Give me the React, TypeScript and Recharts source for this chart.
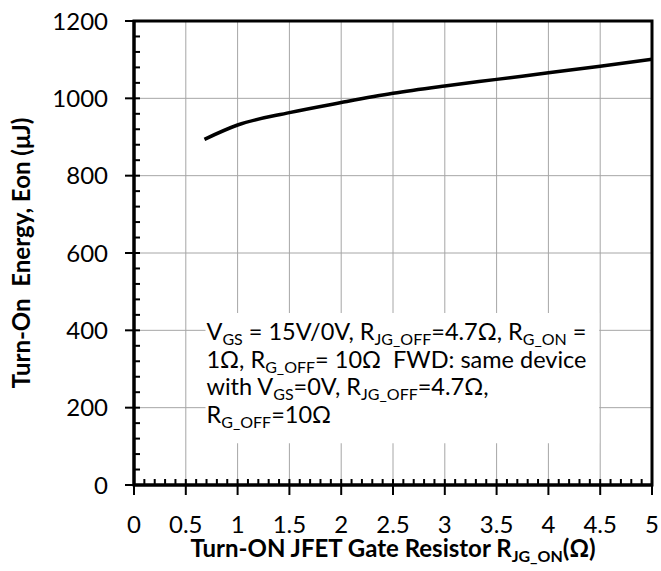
import { ComposedChart, Line, XAxis, YAxis, CartesianGrid, ReferenceArea } from 'recharts';

// gate resistor sweep (ohm) and turn-on energy (uJ)
const rgOn = [0.68, 1, 1.5, 2, 2.5, 3, 3.5, 4, 4.5, 5];
const eon = [894, 931, 963, 989, 1013, 1032, 1049, 1066, 1083, 1101];

const xTicks = [0, 0.5, 1, 1.5, 2, 2.5, 3, 3.5, 4, 4.5, 5];
const xTickLabels = ['0', '0.5', '1', '1.5', '2', '2.5', '3', '3.5', '4', '4.5', '5'];
const yTicks = [0, 200, 400, 600, 800, 1000, 1200];
const yTickLabels = ['0', '200', '400', '600', '800', '1000', '1200'];
// minor tick positions: every 0.1 ohm and every 40 uJ
const xMinor = Array.from({ length: 51 }, (_, i) => i / 10);
const yMinor = Array.from({ length: 31 }, (_, i) => i * 40);

const data = rgOn.map((r, i) => ({ r, eon: eon[i] }));

const FONT = 'Lato, "DejaVu Sans", sans-serif';

type Seg = { t: string; sub?: boolean };

// conditions note, subscripts drawn as shifted tspans
const noteLines: Seg[][] = [
  [{ t: 'V' }, { t: 'GS', sub: true }, { t: ' = 15V/0V, R' }, { t: 'JG_OFF', sub: true }, { t: '=4.7Ω, R' }, { t: 'G_ON', sub: true }, { t: ' =' }],
  [{ t: '1Ω, R' }, { t: 'G_OFF', sub: true }, { t: '= 10Ω  FWD: same device' }],
  [{ t: 'with V' }, { t: 'GS', sub: true }, { t: '=0V, R' }, { t: 'JG_OFF', sub: true }, { t: '=4.7Ω,' }],
  [{ t: 'R' }, { t: 'G_OFF', sub: true }, { t: '=10Ω' }],
];

// relative dy keeps the whole line in one text chunk
function segText(segs: Seg[], size: number, subSize: number) {
  let shifted = false;
  return segs.map((s, i) => {
    let dy = 0;
    if (s.sub && !shifted) { dy = 5; shifted = true; }
    else if (!s.sub && shifted) { dy = -5; shifted = false; }
    return (
      <tspan key={i} dy={dy} fontSize={s.sub ? subSize : size}>
        {s.t}
      </tspan>
    );
  });
}

function majorIndex(list: number[], v: number) {
  return list.findIndex((t) => Math.abs(t - v) < 1e-6);
}

// bottom axis tick: short inward tick everywhere, outward tick + label on majors
function XTick(props: any) {
  const { x, y, payload } = props;
  const idx = majorIndex(xTicks, payload.value);
  return (
    <g>
      <line x1={x} x2={x} y1={y} y2={y - 6} stroke="#000" strokeWidth={2} />
      {idx >= 0 && <line x1={x} x2={x} y1={y} y2={y + 10} stroke="#000" strokeWidth={2} />}
      {idx >= 0 && (
        <text x={x} y={y + 31} dy="0.71em" textAnchor="middle" fontSize={24} fontFamily={FONT} fill="#000">
          {xTickLabels[idx]}
        </text>
      )}
    </g>
  );
}

function YTick(props: any) {
  const { x, y, payload } = props;
  const idx = majorIndex(yTicks, payload.value);
  return (
    <g>
      <line x1={x} x2={x + 6} y1={y} y2={y} stroke="#000" strokeWidth={2} />
      {idx >= 0 && <line x1={x - 9} x2={x} y1={y} y2={y} stroke="#000" strokeWidth={2} />}
      {idx >= 0 && (
        <text x={x - 26} y={y} dy="0.355em" textAnchor="end" fontSize={24} fontFamily={FONT} fill="#000">
          {yTickLabels[idx]}
        </text>
      )}
    </g>
  );
}

function NoteLabel(props: any) {
  const vb = props.viewBox || {};
  const x = vb.x + 1;
  const offs = [27, 55, 82, 110];
  return (
    <g>
      {noteLines.map((line, i) => (
        <text key={i} x={x} y={vb.y + offs[i]} fill="#000" fontFamily={FONT} style={{ whiteSpace: 'pre' }}>
          {segText(line, 23.5, 16)}
        </text>
      ))}
    </g>
  );
}

function XTitle(props: any) {
  const vb = props.viewBox || {};
  return (
    <text x={vb.x + vb.width / 2} y={vb.y + 72} textAnchor="middle" fontFamily={FONT} fontWeight={700} fill="#000">
      {segText([{ t: 'Turn-ON JFET Gate Resistor R' }, { t: 'JG_ON', sub: true }, { t: '(Ω)' }], 24, 16)}
    </text>
  );
}

function YTitle(props: any) {
  const vb = props.viewBox || {};
  const cx = 30;
  const cy = vb.y + vb.height / 2;
  return (
    <text
      x={cx}
      y={cy}
      transform={`rotate(-90 ${cx} ${cy})`}
      textAnchor="middle"
      fontFamily={FONT}
      fontWeight={700}
      fontSize={24}
      fill="#000"
      style={{ whiteSpace: 'pre' }}
    >
      Turn-On  Energy, Eon (μJ)
    </text>
  );
}

export default function App() {
  return (
    <div style={{ position: 'absolute', left: 0, top: 0, background: '#fff' }}>
      <ComposedChart width={661} height={571} data={data} margin={{ top: 21, right: 9, bottom: 0, left: 0 }}>
        <CartesianGrid stroke="#a6a6a6" strokeWidth={1} verticalValues={xTicks} horizontalValues={yTicks} />
        <XAxis
          dataKey="r"
          type="number"
          domain={[0, 5]}
          ticks={xMinor}
          interval={0}
          height={86}
          tickSize={0}
          tickMargin={0}
          axisLine={{ stroke: '#000', strokeWidth: 3 }}
          tickLine={false}
          tick={(p: any) => <XTick {...p} />}
          label={(p: any) => <XTitle {...p} />}
        />
        <YAxis
          type="number"
          domain={[0, 1200]}
          ticks={yMinor}
          interval={0}
          width={134}
          tickSize={0}
          tickMargin={0}
          axisLine={{ stroke: '#000', strokeWidth: 3 }}
          tickLine={false}
          tick={(p: any) => <YTick {...p} />}
          label={(p: any) => <YTitle {...p} />}
        />
        <ReferenceArea
          x1={0.69}
          x2={4.49}
          y1={108}
          y2={445}
          fill="#fff"
          fillOpacity={1}
          stroke="none"
          label={(p: any) => <NoteLabel {...p} />}
        />
        <Line
          dataKey="eon"
          type="monotone"
          stroke="#000"
          strokeWidth={3.5}
          dot={false}
          isAnimationActive={false}
        />
        <ReferenceArea x1={0} x2={5} y1={0} y2={1200} fill="none" stroke="#000" strokeWidth={3} />
      </ComposedChart>
    </div>
  );
}
